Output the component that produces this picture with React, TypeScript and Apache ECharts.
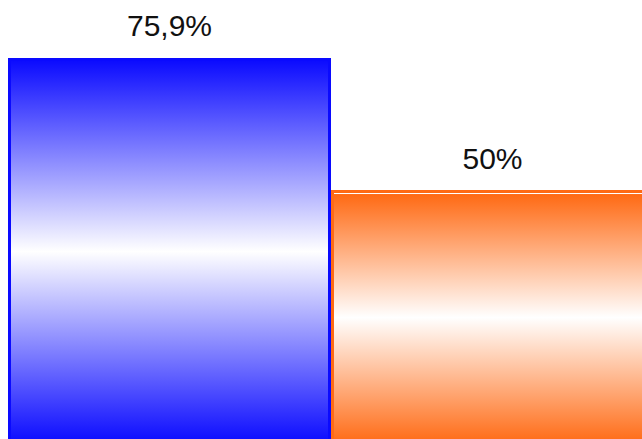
import React, { useEffect, useRef } from "react";
import * as echarts from "echarts";

// Two share bars, labelled with comma decimals
const categories = ["A", "B"];
const values = [75.9, 50];
const barColors = ["#0a0aff", "#ff6a14"];
const topHighlight = [false, true];

const fmt = (v: number) => String(v).replace(".", ",") + "%";

function gradient(c: string, highlight: boolean) {
  const stops = highlight
    ? [
        { offset: 0, color: "#ffffff" },
        { offset: 0.009, color: "#ffffff" },
        { offset: 0.012, color: c },
        { offset: 0.5, color: "#ffffff" },
        { offset: 1, color: c },
      ]
    : [
        { offset: 0, color: c },
        { offset: 0.5, color: "#ffffff" },
        { offset: 1, color: c },
      ];
  return new echarts.graphic.LinearGradient(0, 0, 0, 1, stops);
}

export default function App() {
  const ref = useRef<HTMLDivElement>(null);

  useEffect(() => {
    if (!ref.current) return;
    const chart = echarts.init(ref.current, null, { renderer: "svg" });
    chart.setOption({
      animation: false,
      backgroundColor: "#ffffff",
      grid: { left: 0, right: 0, top: 29, bottom: 2, containLabel: false },
      xAxis: {
        type: "category",
        data: categories,
        show: false,
      },
      yAxis: {
        type: "value",
        min: 0,
        max: 80,
        show: false,
      },
      series: [
        {
          type: "bar",
          barWidth: "100%",
          data: values.map((v, i) => ({
            value: v,
            itemStyle: {
              color: gradient(barColors[i], topHighlight[i]),
              borderColor: barColors[i],
              borderWidth: 3,
            },
          })),
          label: {
            show: true,
            position: "top",
            distance: 17,
            fontFamily: "Liberation Sans, Arial, sans-serif",
            fontSize: 30,
            color: "#111111",
            formatter: (p: any) => fmt(p.value),
          },
        },
      ],
    });
    return () => chart.dispose();
  }, []);

  return (
    <div
      style={{
        position: "fixed",
        left: 0,
        top: 0,
        width: 642,
        height: 439,
        overflow: "hidden",
        background: "#ffffff",
      }}
    >
      <div
        ref={ref}
        style={{ position: "absolute", left: 8, top: 8, width: 646, height: 439 }}
      />
    </div>
  );
}
